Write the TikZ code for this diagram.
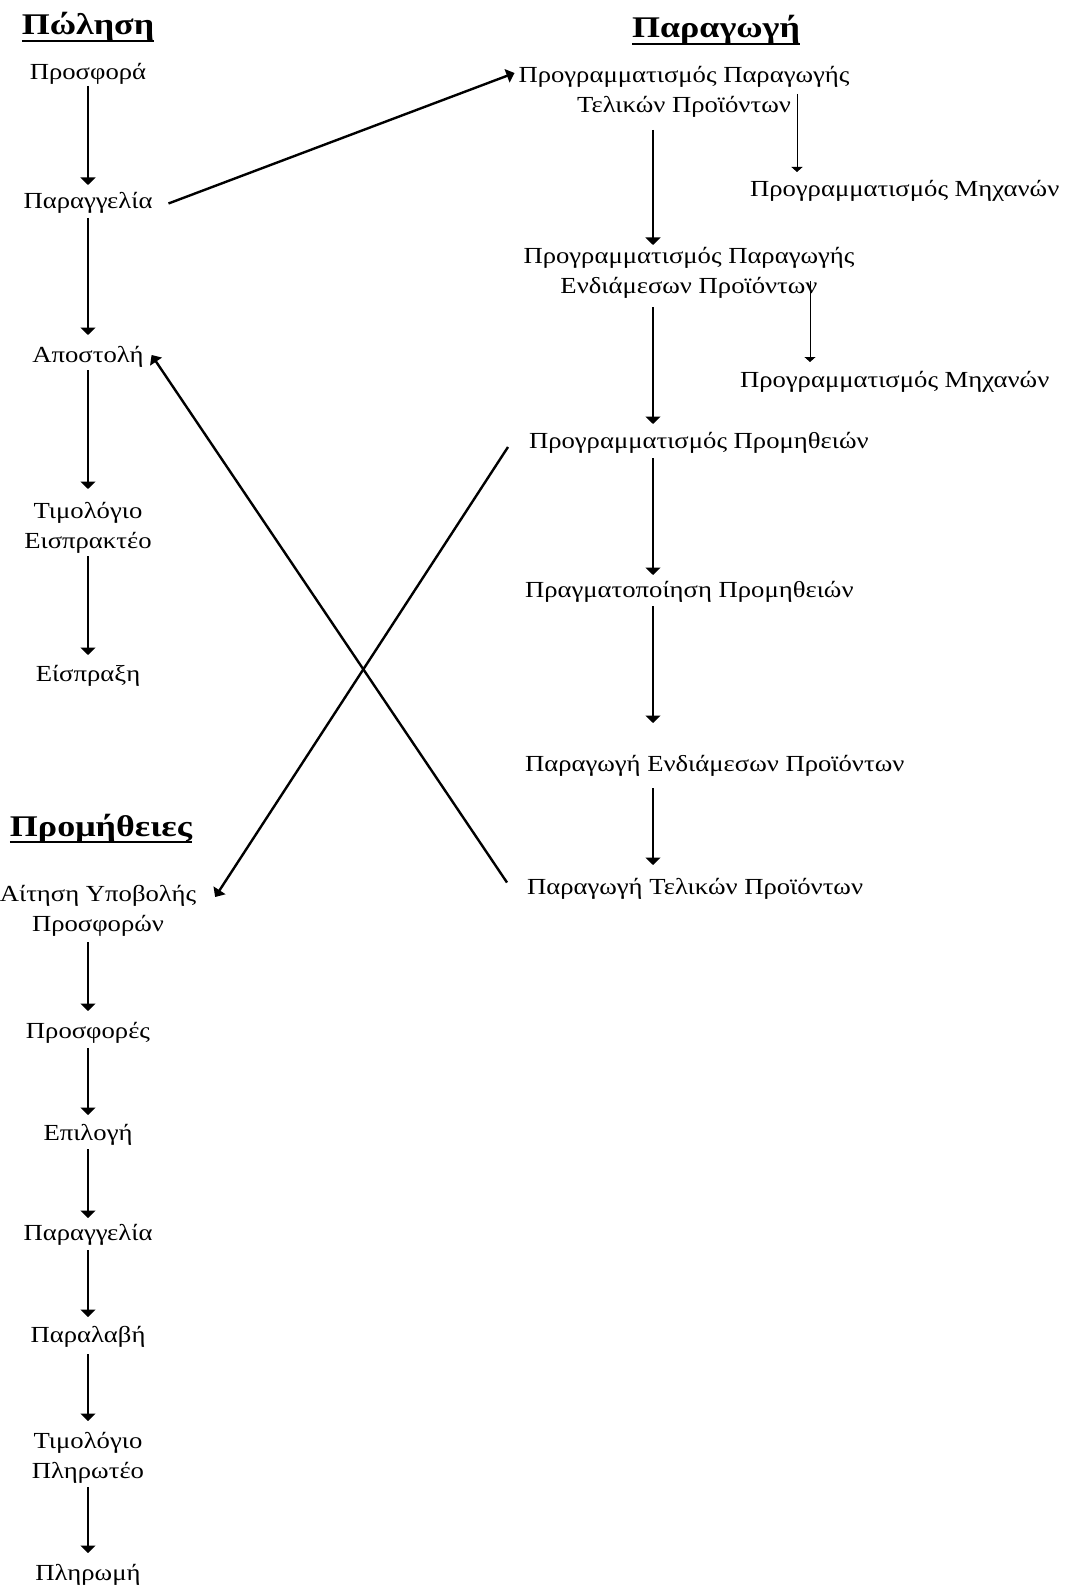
\documentclass[tikz,border=0pt]{standalone}
\usepackage{fontspec}
\setmainfont{Liberation Serif}[FakeStretch=1.16]
\newfontfamily\headfont{Liberation Serif}[FakeStretch=1.2]
\usetikzlibrary{arrows.meta}
\newcommand{\twolines}[2]{\begin{tabular}[t]{@{}c@{}}#1\\#2\end{tabular}}
\begin{document}
\begin{tikzpicture}[x=1pt,y=-1pt,
  item/.style={inner sep=0pt, outer sep=0pt, font=\fontsize{23}{30}\selectfont,
    text height=17pt, text depth=6pt, anchor=base},
  item2/.style={item, text depth=36pt},
  head/.style={inner sep=0pt, outer sep=0pt, font=\headfont\fontsize{30}{34}\selectfont\bfseries, anchor=base},
  uline/.style={line width=2.4pt},
  flow/.style={line width=2.6pt, -{Triangle[width=15pt,length=7.5pt]}},
  sub/.style={line width=1pt, -{Triangle[width=11pt,length=5pt]}},
  link/.style={line width=2.4pt, -{Triangle[width=14pt,length=8pt]}},
  gaps/.style 2 args={shorten <=#1pt, shorten >=#2pt},
]
\fill[white] (0,0) rectangle (1065,1589);
\useasboundingbox (0,0) rectangle (1065,1589);

% column axes
\coordinate (lx) at (88,0);
\coordinate (rx) at (653,0);

% ---- Sales ----
\node[head] (hs) at (88,35) {Πώληση};
\node[item] (s1) at (88,80) {Προσφορά};
\node[item] (s2) at (88,209) {Παραγγελία};
\node[item] (s3) at (88,362) {Αποστολή};
\node[item2] (s4) at (88,518) {\twolines{Τιμολόγιο}{Εισπρακτέο}};
\node[item] (s5) at (88,681) {Είσπραξη};

% ---- Purchasing ----
\node[head] (hp) at (101,836) {Προμήθειες};
\node[item2] (p1) at (98,901) {\twolines{Αίτηση Υποβολής}{Προσφορών}};
\node[item] (p2) at (88,1038) {Προσφορές};
\node[item] (p3) at (88,1140) {Επιλογή};
\node[item] (p4) at (88,1240) {Παραγγελία};
\node[item] (p5) at (88,1342) {Παραλαβή};
\node[item2] (p6) at (88,1448) {\twolines{Τιμολόγιο}{Πληρωτέο}};
\node[item] (p7) at (88,1580) {Πληρωμή};

% ---- Production ----
\node[head] (hm) at (716,38) {Παραγωγή};
\node[item2] (r1) at (684,83) {\twolines{Προγραμματισμός Παραγωγής}{Τελικών Προϊόντων}};
\node[item, anchor=base west] (m1) at (750,197) {Προγραμματισμός Μηχανών};
\node[item2] (r2) at (689,263) {\twolines{Προγραμματισμός Παραγωγής}{Ενδιάμεσων Προϊόντων}};
\node[item, anchor=base west] (m2) at (740,387) {Προγραμματισμός Μηχανών};
\node[item, anchor=base west] (r3) at (529,448) {Προγραμματισμός Προμηθειών};
\node[item, anchor=base west] (r4) at (525,597) {Πραγματοποίηση Προμηθειών};
\node[item, anchor=base west] (r5) at (525,771) {Παραγωγή Ενδιάμεσων Προϊόντων};
\node[item, anchor=base west] (r6) at (527,894) {Παραγωγή Τελικών Προϊόντων};

% heading underlines
\foreach \h in {hs,hp,hm}
  \draw[uline] ([yshift=-6pt]\h.base west) -- ([yshift=-6pt]\h.base east);

% sales flow
\draw[flow, gaps={0}{7}]  (s1.south -| lx) -- (s2.north -| lx);
\draw[flow, gaps={3}{10}] (s2.south -| lx) -- (s3.north -| lx);
\draw[flow, gaps={2}{12}] (s3.south -| lx) -- (s4.north -| lx);
\draw[flow, gaps={2}{9}]  (s4.south -| lx) -- (s5.north -| lx);

% purchasing flow
\draw[flow, gaps={5}{10}] (p1.south -| lx) -- (p2.north -| lx);
\draw[flow, gaps={4}{8}]  (p2.south -| lx) -- (p3.north -| lx);
\draw[flow, gaps={3}{5}]  (p3.south -| lx) -- (p4.north -| lx);
\draw[flow, gaps={4}{8}]  (p4.south -| lx) -- (p5.north -| lx);
\draw[flow, gaps={6}{10}] (p5.south -| lx) -- (p6.north -| lx);
\draw[flow, gaps={3}{10}] (p6.south -| lx) -- (p7.north -| lx);

% production flow
\draw[flow, gaps={11}{1}] (r1.south -| rx) -- (r2.north -| rx);
\draw[flow, gaps={8}{7}]  (r2.south -| rx) -- (r3.north -| rx);
\draw[flow, gaps={4}{5}]  (r3.south -| rx) -- (r4.north -| rx);
\draw[flow, gaps={3}{31}] (r4.south -| rx) -- (r5.north -| rx);
\draw[flow, gaps={11}{12}] (r5.south -| rx) -- (r6.north -| rx);

% machine scheduling branches
\path (r1.south) ++(113,-25) coordinate (t1);
\path (r2.south) ++(121,-18) coordinate (t2);
\draw[sub, gaps={0}{8}] (t1) -- (t1 |- m1.north);
\draw[sub, gaps={0}{8}] (t2) -- (t2 |- m2.north);

% links between the three areas
\draw[link] ([xshift=16pt]s2.east) -- ([shift={(-4pt,-7pt)}]r1.north west);
\draw[link] ([shift={(-20pt,6pt)}]r6.west) -- ([shift={(8pt,1.5pt)}]s3.east);
\draw[link] ([shift={(-21pt,-4.5pt)}]r3.west) -- ([shift={(19pt,-13pt)}]p1.north east);
\end{tikzpicture}
\end{document}
